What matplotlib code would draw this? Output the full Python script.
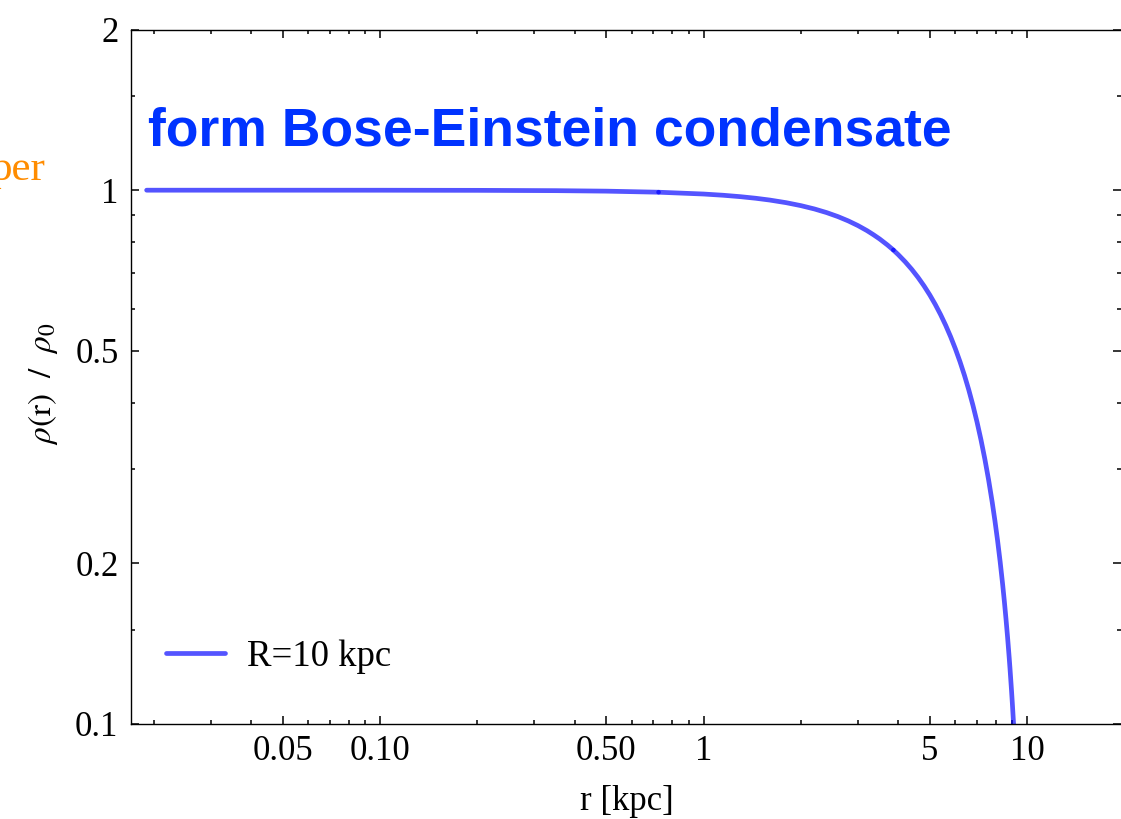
import matplotlib
matplotlib.use("Agg")
import matplotlib.pyplot as plt
from matplotlib.ticker import FixedLocator, FixedFormatter, NullFormatter

# density profile of the condensate halo, rho(r)/rho0 against r in kpc
r_kpc = [0.019, 0.05, 0.1, 0.2, 0.35, 0.5, 0.726, 1.0, 1.15, 1.3, 1.45,
         1.6, 1.8, 2.0, 2.2, 2.4, 2.6, 2.8, 3.0, 3.2, 3.35, 3.5, 3.7, 3.86,
         4.0, 4.2, 4.4, 4.6, 4.8, 5.0, 5.2, 5.4, 5.6, 5.8, 6.0, 6.2, 6.4,
         6.6, 6.8, 7.0, 7.2, 7.4, 7.6, 7.8, 7.95, 8.1, 8.25, 8.4, 8.5, 8.6,
         8.7, 8.8, 8.85, 8.95, 9.0, 9.08]
rho_ratio = [1.0, 0.99996, 0.99984, 0.99934, 0.99799, 0.99589, 0.9913,
             0.9836, 0.97838, 0.97241, 0.96577, 0.95842, 0.94755, 0.93549,
             0.92227, 0.90792, 0.89246, 0.87593, 0.85839, 0.83987, 0.82518,
             0.81033, 0.78954, 0.7725, 0.75683, 0.73407, 0.71062, 0.68652,
             0.66184, 0.63662, 0.61093, 0.58481, 0.55834, 0.53157, 0.50455,
             0.47735, 0.45003, 0.42263, 0.39523, 0.36788, 0.34064, 0.31357,
             0.28671, 0.26013, 0.24040, 0.22088, 0.20160, 0.18256, 0.17001,
             0.15759, 0.14531, 0.13316, 0.12713, 0.11520, 0.10929, 0.09992]
# the curve was sampled in pieces; these are the r values where pieces meet
joins = [0.726, 3.86]

x_major = [0.05, 0.1, 0.5, 1, 5, 10]
x_major_labels = ["0.05", "0.10", "0.50", "1", "5", "10"]
x_minor = [0.02, 0.03, 0.04, 0.06, 0.07, 0.08, 0.09, 0.2, 0.3, 0.4, 0.6,
           0.7, 0.8, 0.9, 2, 3, 4, 6, 7, 8, 9]
y_major = [0.1, 0.2, 0.5, 1, 2]
y_major_labels = ["0.1", "0.2", "0.5", "1", "2"]
y_minor = [0.15, 0.3, 0.4, 0.6, 0.7, 0.8, 0.9, 1.5]

plt.rcParams['font.family'] = ['Liberation Serif', 'DejaVu Serif']
plt.rcParams['mathtext.fontset'] = 'stix'

W, H = 1121, 819
fig = plt.figure(figsize=(W / 100, H / 100), dpi=100)
ax = fig.add_axes([131 / W, 1 - 724 / H, (W - 131) / W, (724 - 29.5) / H])

# split into pieces at the joins (round caps overlap -> darker dots)
cuts = [0] + [r_kpc.index(j) for j in joins] + [len(r_kpc) - 1]
for k in range(len(cuts) - 1):
    a, b = cuts[k], cuts[k + 1]
    ax.plot(r_kpc[a:b + 1], rho_ratio[a:b + 1], color=(0, 0, 1), alpha=0.67,
            lw=3.4, solid_capstyle='round', solid_joinstyle='round',
            label="R=10 kpc" if k == 0 else None)

ax.set_xscale('log')
ax.set_yscale('log')
ax.set_xlim(0.0170, 19.5)
ax.set_ylim(0.1, 2)

ax.xaxis.set_major_locator(FixedLocator(x_major))
ax.xaxis.set_major_formatter(FixedFormatter(x_major_labels))
ax.xaxis.set_minor_locator(FixedLocator(x_minor))
ax.xaxis.set_minor_formatter(NullFormatter())
ax.yaxis.set_major_locator(FixedLocator(y_major))
ax.yaxis.set_major_formatter(FixedFormatter(y_major_labels))
ax.yaxis.set_minor_locator(FixedLocator(y_minor))
ax.yaxis.set_minor_formatter(NullFormatter())

ax.tick_params(which='both', direction='in', top=True, right=True,
               width=1.1, labelsize=25)
ax.tick_params(which='major', length=5.8)
ax.tick_params(which='minor', length=2.8)
ax.tick_params(axis='x', which='major', pad=8)
ax.tick_params(axis='y', which='major', pad=9)
for s in ['left', 'bottom', 'top']:
    ax.spines[s].set_linewidth(1.0)
ax.spines['right'].set_visible(False)

ax.set_xlabel("r [kpc]", fontsize=25)
ax.xaxis.set_label_coords(0.501, -0.088)
ax.set_ylabel(r"$\rho(\mathrm{r})\ \ /\ \ \rho_0$", fontsize=24)
ax.yaxis.set_label_coords(-0.072, 0.49)

ax.legend(loc='center left', bbox_to_anchor=(0.0354, 0.0965), frameon=False,
          fontsize=26.5, handlelength=1.6, handletextpad=0.6,
          borderpad=0, borderaxespad=0)

fig.text(148 / W, 1 - 146 / H, "form Bose-Einstein condensate",
         color='#0033ff', fontsize=38.5, fontweight='bold',
         family=['Liberation Sans', 'DejaVu Sans'], va='baseline')
fig.text(45 / W, 1 - 180 / H, "per", color='#ff8c00', fontsize=31,
         ha='right', va='baseline')

fig.savefig("out.png", dpi=100)
